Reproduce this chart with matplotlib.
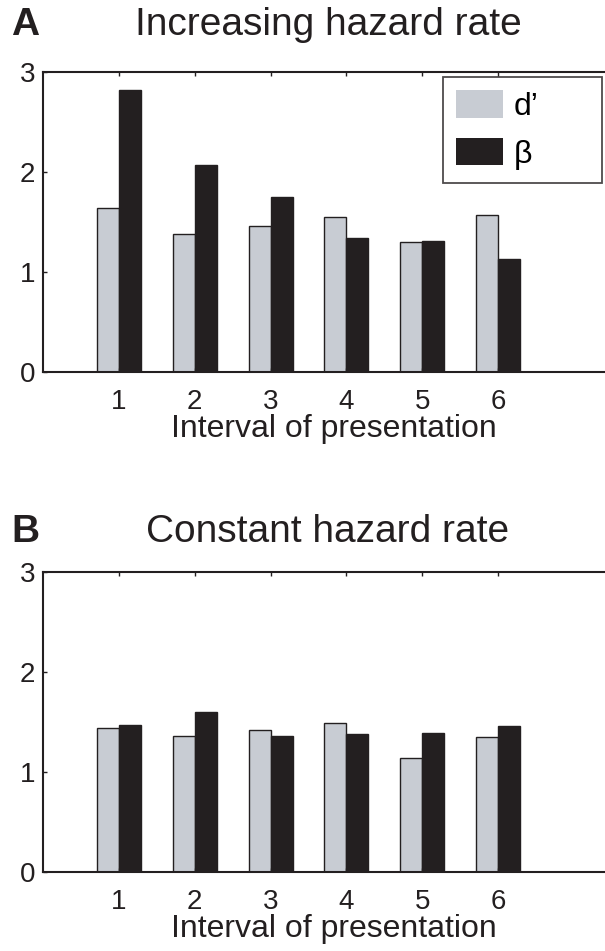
import matplotlib
matplotlib.use("Agg")
import matplotlib.pyplot as plt
import numpy as np
from matplotlib.patches import Patch

plt.rcParams['font.family'] = ['Liberation Sans', 'DejaVu Sans']

intervals = [1, 2, 3, 4, 5, 6]
tick_labels = ['1', '2', '3', '4', '5', '6']
dprime_increasing = [1.64, 1.38, 1.46, 1.55, 1.30, 1.57]
beta_increasing = [2.82, 2.07, 1.75, 1.34, 1.31, 1.13]
dprime_constant = [1.44, 1.36, 1.42, 1.49, 1.14, 1.35]
beta_constant = [1.47, 1.60, 1.36, 1.38, 1.39, 1.46]
titles = ['Increasing hazard rate', 'Constant hazard rate']
panel_letters = ['A', 'B']
series_names = ["d\u2019", "\u03b2"]

W, H = 605, 951
fig = plt.figure(figsize=(W / 100, H / 100), dpi=100)

gray = '#c8ccd3'
dark = '#231f20'
bw = 0.29
tick_fs = 20
label_fs = 23

def fx(px):
    return px / W

def fy(py):
    return 1 - py / H

# (d', beta, axes top px, axes bottom px, title baseline px)
panels = [
    (dprime_increasing, beta_increasing, 72, 372, 35),
    (dprime_constant, beta_constant, 571.7, 872.3, 541.7),
]

for i, (dp, bt, top, bot, tbase) in enumerate(panels):
    ax = fig.add_axes([fx(43), fy(bot), fx(W - 43), (bot - top) / H])
    x = np.array(intervals, dtype=float)
    ax.bar(x - bw / 2, dp, width=bw, color=gray, edgecolor=dark, linewidth=1.0)
    ax.bar(x + bw / 2, bt, width=bw, color=dark, edgecolor=dark, linewidth=1.0)
    ax.set_xlim(0, 7.41)
    ax.set_ylim(0, 3)
    ax.set_xticks(intervals)
    ax.set_xticklabels(tick_labels, fontsize=tick_fs)
    ax.set_yticks([0, 1, 2, 3])
    ax.set_yticklabels(['0', '1', '2', '3'], fontsize=tick_fs)
    ax.tick_params(direction='in', length=3, width=1, top=True, right=False,
                   colors=dark)
    ax.tick_params(axis='x', pad=12.2)
    ax.tick_params(axis='y', pad=5.8)
    for s in ['left', 'top', 'bottom']:
        ax.spines[s].set_linewidth(1.5)
        ax.spines[s].set_color(dark)
    ax.spines['right'].set_visible(False)
    ax.set_xlabel('Interval of presentation', fontsize=label_fs, color=dark)
    ax.xaxis.set_label_coords(fx(333.7), fy(bot + 65), transform=fig.transFigure)
    ax.xaxis.label.set_verticalalignment('baseline')
    fig.text(fx(328), fy(tbase), titles[i], fontsize=28, ha='center', va='baseline',
             color=dark)
    fig.text(fx(11), fy(tbase), panel_letters[i], fontsize=28, fontweight='bold',
             ha='left', va='baseline', color=dark)
    if i == 0:
        handles = [Patch(facecolor=gray, edgecolor='none'),
                   Patch(facecolor=dark, edgecolor='none')]
        bx0, bx1, by0, by1 = 443, 602, 77, 177
        leg = ax.legend(handles, series_names, loc='upper left', mode='expand',
                        bbox_to_anchor=(fx(bx0), fy(by1), fx(bx1 - bx0), (by1 - by0) / H),
                        bbox_transform=fig.transFigure,
                        fontsize=label_fs, frameon=True, fancybox=False, handlelength=1.47,
                        handleheight=0.94, labelspacing=0.5, handletextpad=0.32,
                        borderpad=0.42, borderaxespad=0)
        leg.get_frame().set_edgecolor(dark)
        leg.get_frame().set_linewidth(1.3)

fig.savefig('out.png', dpi=100)
